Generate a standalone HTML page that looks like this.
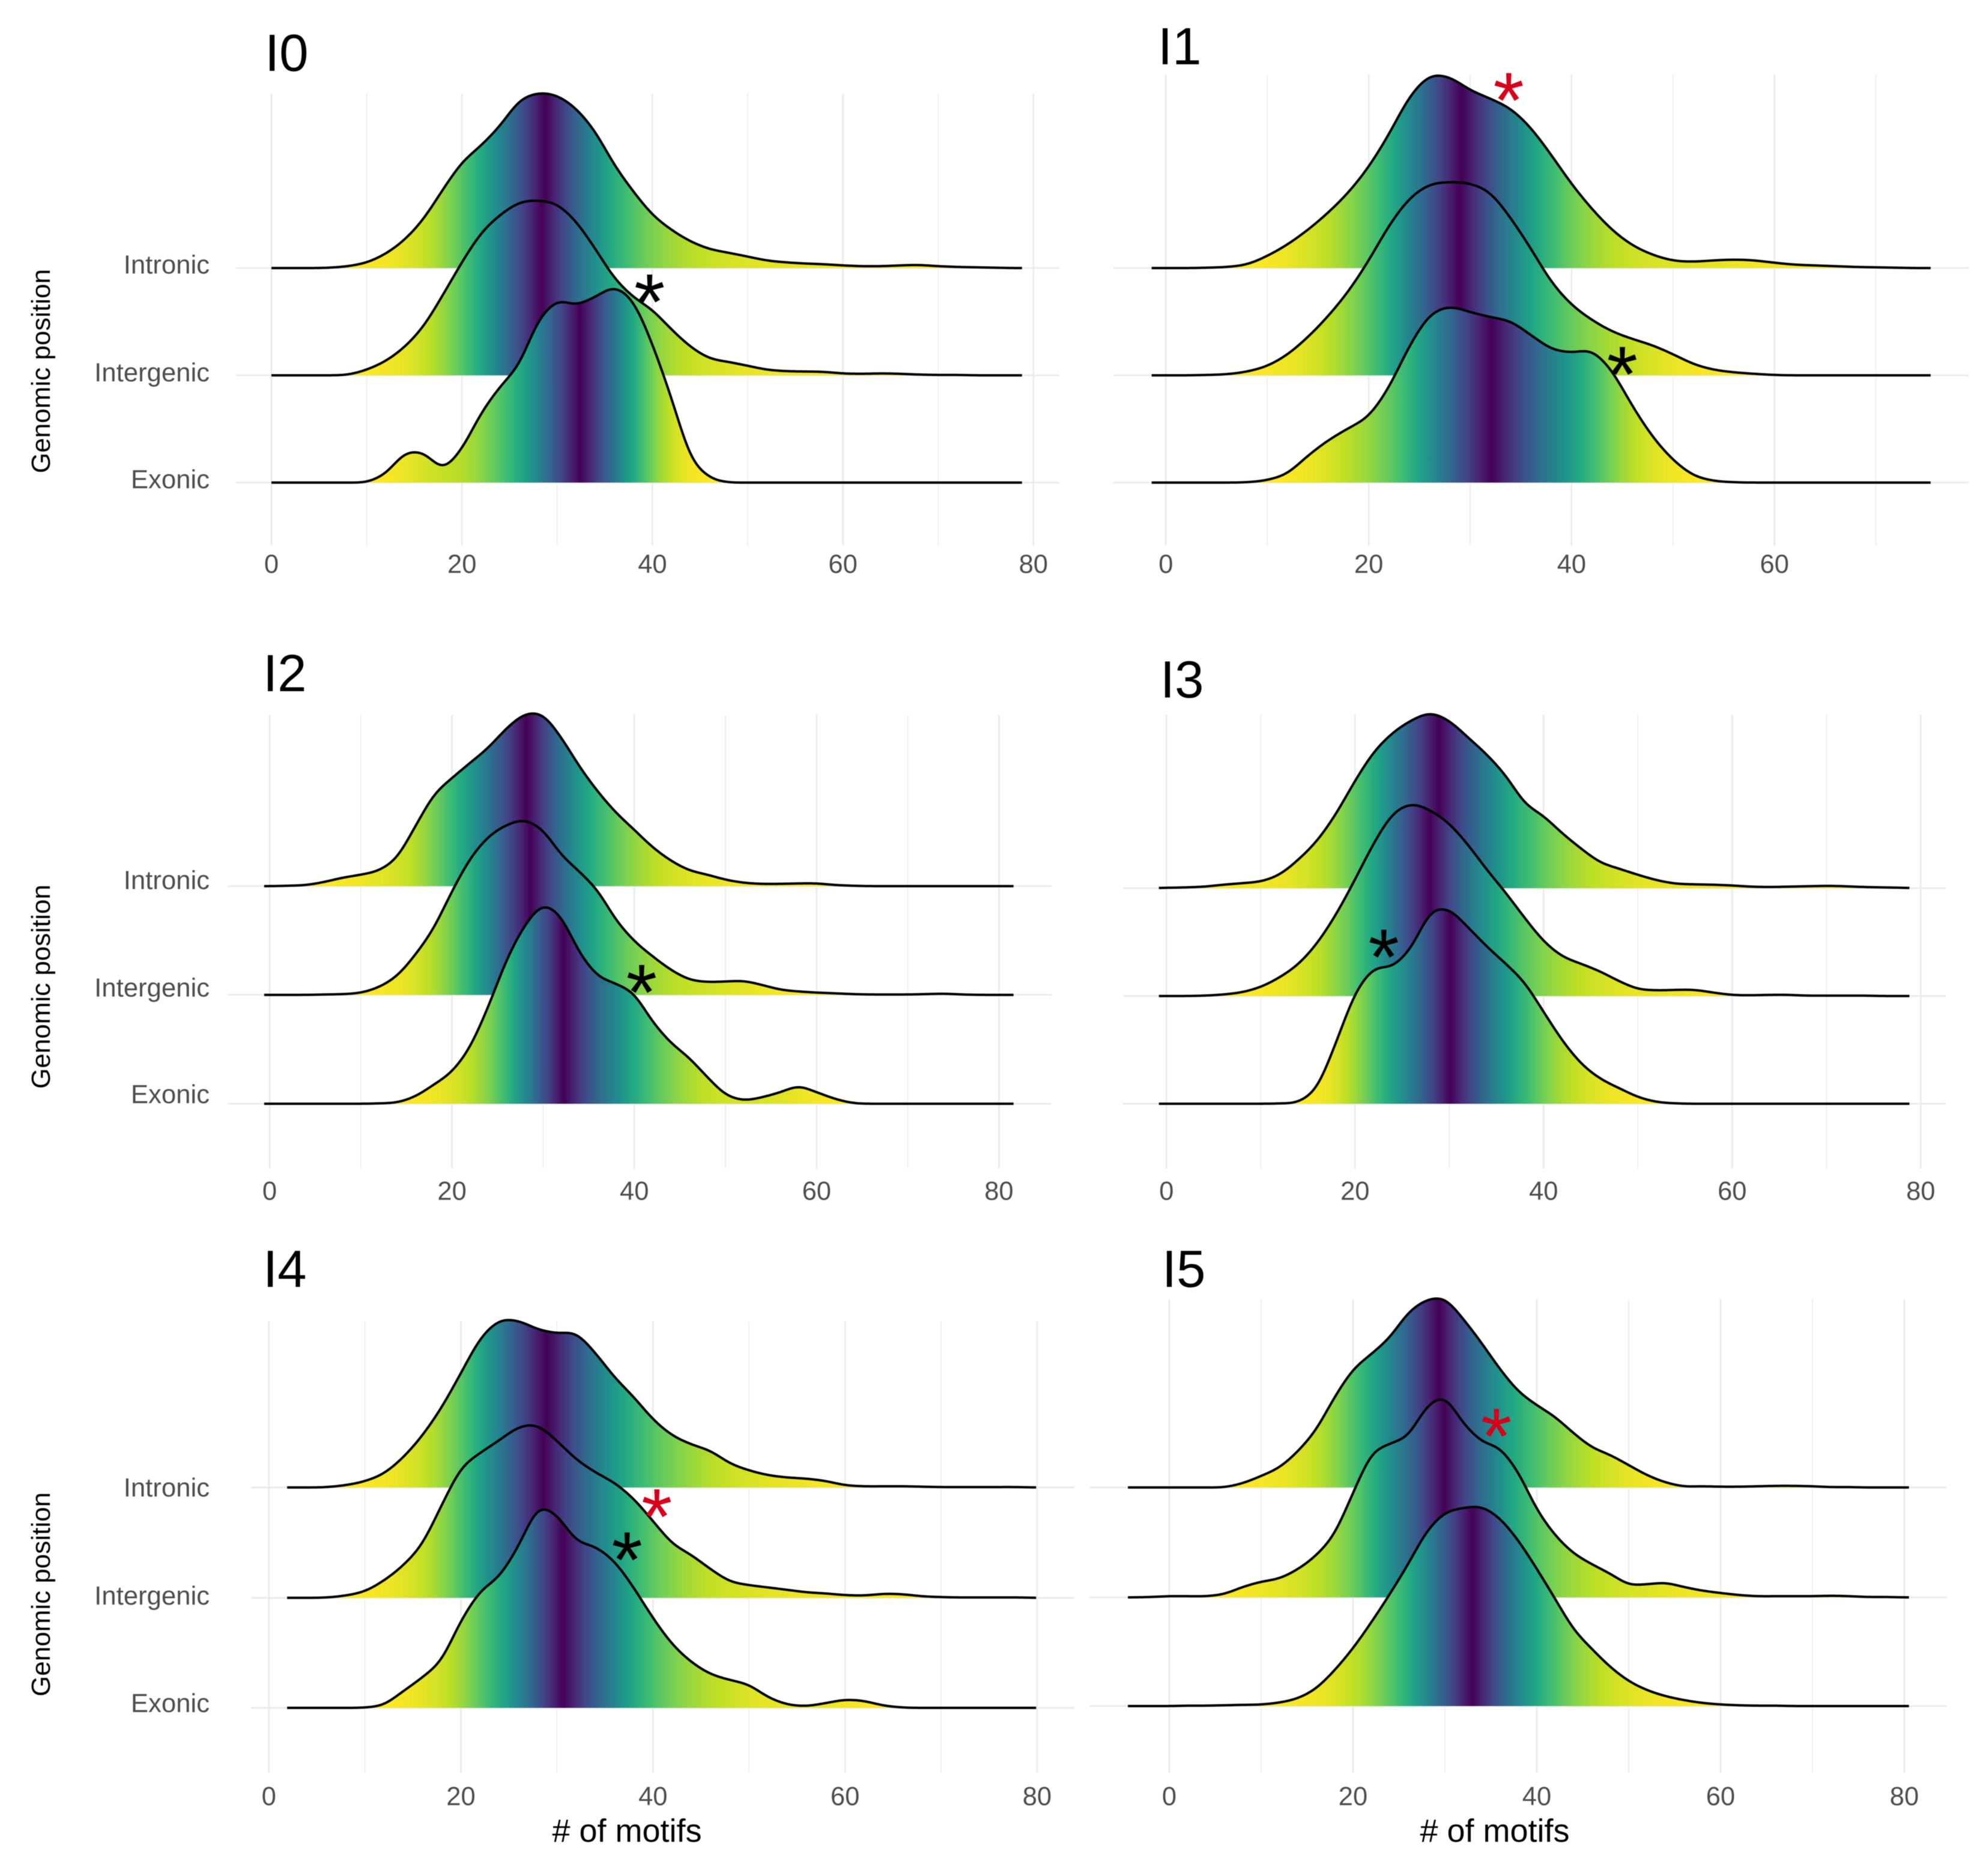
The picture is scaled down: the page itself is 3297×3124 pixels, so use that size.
<!DOCTYPE html>
<html lang="en">
<head>
<meta charset="utf-8">
<title>Motif count ridgelines by genomic position</title>
<style>
html,body{margin:0;padding:0;background:#fff;}
svg{display:block;filter:blur(0.6px);}
text{font-family:"Liberation Sans",sans-serif;}
</style>
</head>
<body>
<svg id="chart" xmlns="http://www.w3.org/2000/svg" width="3297" height="3124" viewBox="0 0 3297 3124"></svg>
<script>
// Shared x bins (# of motifs) for every density array below.
const motifBins = [-6,-4,-2,0,2,4,6,8,10,12,14,16,18,20,22,24,26,28,30,32,34,36,38,40,42,44,46,48,50,52,54,56,58,60,62,64,66,68,70,72,74,76,78,80,82];
const rowNames = ["Intronic","Intergenic","Exonic"];

// Density heights (arbitrary units), one value per motif bin.
const i0Intronic = [0,0,0, 0,0,0,1,5, 15,38,75,130,205, 275,320,372,435,456, 449,415,355,270,200, 140,100,70,50,40, 30,20,15,12,10, 7,5,5,7,8, 5,3,2,1,0, 0,0];
const i0Intergenic = [0,0,0, 0,0,0,0,2, 15,38,75,130,210, 295,370,418,450,456, 445,400,330,255,205, 170,120,75,45,35, 25,15,11,10,9, 5,4,5,4,2, 1,1,0,0,0, 0,0];
const i0Exonic = [0,0,0, 0,0,0,0,0, 2,25,75,76,40, 90,180,250,310,420, 472,465,485,508,470, 360,220,70,15,1, 0,0,0,0,0, 0,0,0,0,0, 0,0,0,0,0, 0,0];

const i1Intronic = [0,0,0, 0,0,1,3,10, 32,62,100,145,198, 265,350,445,500,497, 465,442,415,365,295, 220,155,100,60,35, 20,17,20,22,20, 14,9,7,5,3, 2,1,0,0,0, 0,0];
const i1Intergenic = [0,0,0, 0,0,1,3,10, 25,55,100,155,220, 300,390,460,497,504, 500,475,410,330,245, 185,145,115,95,78, 55,30,15,8,4, 1,0,0,0,0, 0,0,0,0,0, 0,0];
const i1Exonic = [0,0,0, 0,0,0,0,1, 7,25,70,110,142, 175,250,355,435,458, 445,432,420,385,350, 340,342,290,200,120, 60,20,5,1,0, 0,0,0,0,0, 0,0,0,0,0, 0,0];

const i2Intronic = [0,0,0, 0,1,3,11,22, 30,42,77,157,237, 282,322,362,412,448, 445,387,312,247,192, 147,102,67,42,30, 17,9,6,6,7, 7,3,1,0,0, 0,0,0,0,0, 0,0];
const i2Intergenic = [0,0,0, 0,0,0,1,2, 6,21,51,106,175, 270,355,412,443,455, 428,366,321,271,196, 141,101,66,41,34, 35,36,26,14,9, 6,4,2,1,1, 1,2,3,1,0, 0,0];
const i2Exonic = [0,0,0, 0,0,0,0,0, 0,1,4,20,50, 85,150,255,375,465, 516,485,395,335,313, 285,215,160,120,70, 25,10,17,30,45, 30,13,2,0,0, 0,0,0,0,0, 0,0];

const i3Intronic = [0,0,0, 1,2,4,9,13, 18,36,75,125,195, 280,355,405,438,456, 436,393,348,293,223, 188,143,103,68,51, 35,21,12,10,9, 7,4,3,4,5, 6,5,3,2,1, 0,0];
const i3Intergenic = [0,0,0, 0,0,1,4,10, 24,49,84,139,214, 304,399,474,500,484, 449,394,329,269,204, 144,104,84,64,39, 19,15,16,16,9, 3,2,3,3,1, 1,1,1,0,0, 0,0];
const i3Exonic = [0,0,0, 0,0,0,0,0, 0,1,6,46,161, 286,351,360,410,498, 505,460,410,365,315, 240,165,105,66,41, 18,5,1,0,0, 0,0,0,0,0, 0,0,0,0,0, 0,0];

const i4Intronic = [0,0,0, 0,0,0,1,6, 16,36,76,131,201, 286,371,416,416,396, 386,384,336,276,226, 171,131,108,91,61, 43,31,25,22,16, 6,3,3,3,2, 1,1,1,1,1, 0,0];
const i4Intergenic = [0,0,0, 0,0,0,1,6, 17,44,82,137,232, 322,362,394,426,430, 392,347,314,287,247, 192,137,107,72,42, 32,26,20,14,11, 7,6,10,9,4, 2,1,1,1,1, 0,0];
const i4Exonic = [0,0,0, 0,0,0,0,0, 1,9,42,77,122, 217,290,330,405,496, 480,420,402,365,300, 225,160,115,85,70, 57,27,9,5,12, 20,17,6,1,0, 0,0,0,0,0, 0,0];

const i5Intronic = [0,0,0, 0,0,0,1,11, 29,51,91,146,226, 294,334,376,436,468, 470,421,361,296,241, 206,176,136,101,81, 56,31,13,3,3, 2,2,3,4,4, 3,1,1,0,0, 0,0];
const i5Intergenic = [0,0,1, 3,3,3,9,26, 39,48,71,106,161, 261,356,384,406,475, 497,436,391,371,311, 221,156,111,83,59, 33,33,36,26,17, 11,6,3,3,3, 3,4,3,1,1, 0,0];
const i5Exonic = [0,0,0, 0,1,1,2,3, 4,9,20,45,90, 145,210,280,355,435, 482,495,497,468,413, 343,268,193,143,98, 63,40,25,15,8, 4,2,1,1,0, 0,0,0,0,0, 0,0];

// Axis ticks
const i0TickLabels = [0,20,40,60,80];
const i1TickLabels = [0,20,40,60];
const i2TickLabels = [0,20,40,60,80];
const i3TickLabels = [0,20,40,60,80];
const i4TickLabels = [0,20,40,60,80];
const i5TickLabels = [0,20,40,60,80];
const minorTicks = [10,30,50,70];

// Asterisk annotations: motif value, ridge index, height above that ridge, colour.
const i0Stars = [[39.7,1,224,"#000"]];
const i1Stars = [[33.8,0,470,"#d7001c"],[45,1,35,"#000"]];
const i2Stars = [[40.8,1,39,"#000"]];
const i3Stars = [[23.05,1,134,"#000"]];
const i4Stars = [[40.4,1,234,"#d7001c"],[37.3,1,126,"#000"]];
const i5Stars = [[35.6,1,434,"#d7001c"]];

const viridisStops = ["#440154","#482475","#414487","#355f8d","#2a788e","#21908d","#22a884","#42be71","#7ad151","#bddf26","#fde725"];

const panels = [
 {id:"I0",title:[441,118],x0:452,pxPerUnit:15.86,rows:[446.4,625,803.6],top:156,bottom:909,left:393,right:1764,xMin:0,xMax:78.8,hScale:0.638,tickY:954,series:[i0Intronic,i0Intergenic,i0Exonic],ticks:i0TickLabels,stars:i0Stars,yLabelDy:[9,10,9.5],yTitleY:618},
 {id:"I1",title:[1928,107],x0:1941.3,pxPerUnit:16.89,rows:[446.4,625,803.6],top:124,bottom:909,left:1854,right:3278,xMin:-1.4,xMax:75.4,hScale:0.638,tickY:954,series:[i1Intronic,i1Intergenic,i1Exonic],ticks:i1TickLabels,stars:i1Stars},
 {id:"I2",title:[438,1151],x0:449,pxPerUnit:15.18,rows:[1475.6,1656.7,1838],top:1190,bottom:1946,left:379,right:1751,xMin:-0.6,xMax:81.6,hScale:0.638,tickY:1998,series:[i2Intronic,i2Intergenic,i2Exonic],ticks:i2TickLabels,stars:i2Stars,yLabelDy:[5,3,-1],yTitleY:1643},
 {id:"I3",title:[1932,1161.6],x0:1942.3,pxPerUnit:15.7,rows:[1479,1658.6,1838],top:1190,bottom:1946,left:1870,right:3240,xMin:-0.8,xMax:78.8,hScale:0.638,tickY:1998,series:[i3Intronic,i3Intergenic,i3Exonic],ticks:i3TickLabels,stars:i3Stars},
 {id:"I4",title:[438,2143],x0:447.7,pxPerUnit:15.99,rows:[2477,2660.8,2844],top:2200,bottom:2952,left:418,right:1789,xMin:1.9,xMax:80,hScale:0.666,tickY:3006,series:[i4Intronic,i4Intergenic,i4Exonic],ticks:i4TickLabels,stars:i4Stars,yLabelDy:[15,11,7],yTitleY:2655,xTitleX:1044},
 {id:"I5",title:[1935,2143],x0:1947,pxPerUnit:15.3,rows:[2477,2660,2841],top:2163,bottom:2952,left:1814,right:3242,xMin:-4.5,xMax:80.5,hScale:0.666,tickY:3006,series:[i5Intronic,i5Intergenic,i5Exonic],ticks:i5TickLabels,stars:i5Stars,xTitleX:2489}
];

const SVGNS = "http://www.w3.org/2000/svg";
const svg = document.getElementById("chart");

function make(tag, attrs, parent, text) {
  const node = document.createElementNS(SVGNS, tag);
  for (const k in attrs) node.setAttribute(k, attrs[k]);
  if (text !== undefined) node.textContent = text;
  parent.appendChild(node);
  return node;
}
function hexToRgb(h) {
  return [parseInt(h.slice(1,3),16),parseInt(h.slice(3,5),16),parseInt(h.slice(5,7),16)];
}
function viridis(t) {
  const p = Math.max(0,Math.min(1,t))*(viridisStops.length-1);
  const i = Math.min(Math.floor(p),viridisStops.length-2);
  const a = hexToRgb(viridisStops[i]), b = hexToRgb(viridisStops[i+1]), f = p-i;
  return "rgb("+[0,1,2].map(function(c){return Math.round(a[c]+(b[c]-a[c])*f);}).join(",")+")";
}
function rawDensity(values, x) {
  const step = motifBins[1]-motifBins[0];
  const pos = (x-motifBins[0])/step;
  const i = Math.max(0,Math.min(motifBins.length-2,Math.floor(pos)));
  const t = pos-i;
  const v = function(k){const j=Math.max(0,Math.min(values.length-1,k));return values[j]||0;};
  const p0=v(i-1),p1=v(i),p2=v(i+1),p3=v(i+2);
  const y = 0.5*((2*p1)+(-p0+p2)*t+(2*p0-5*p1+4*p2-p3)*t*t+(-p0+3*p1-3*p2+p3)*t*t*t);
  return Math.max(0,y);
}
// Light kernel smoothing, as a density estimate would show.
function densityAt(values, x) {
  const sigma = 0.6;
  let sum = 0, weight = 0;
  for (let d=-1.5; d<=1.5001; d+=0.25) {
    const w = Math.exp(-d*d/(2*sigma*sigma));
    sum += w*rawDensity(values,x+d);
    weight += w;
  }
  return sum/weight;
}

panels.forEach(function(p, panelIndex) {
  const xScale = function(v){return p.x0+v*p.pxPerUnit;};
  const heightScale = function(v){return v*p.hScale;};

  const g = make("g",{},svg);
  
  

  // grid lines
  minorTicks.forEach(function(v){
    const px = xScale(v);
    if (px > p.right) return;
    const line = make("line",{x1:px,x2:px,y1:p.top,y2:p.bottom,stroke:"#ebebeb","stroke-width":1.5},g);
    
    
  });
  p.ticks.forEach(function(v){
    const px = xScale(v);
    const line = make("line",{x1:px,x2:px,y1:p.top,y2:p.bottom,stroke:"#ebebeb","stroke-width":2.8},g);
    
    
    const label = make("text",{x:px,y:p.tickY,"text-anchor":"middle","font-size":43.5,fill:"#4d4d4d"},g,String(v));
    
    
  });
  p.rows.forEach(function(b, r){
    const line = make("line",{x1:p.left,x2:p.right,y1:b,y2:b,stroke:"#ebebeb","stroke-width":2.8},g);
    
    
    if (p.yLabelDy !== undefined) {
      const label = make("text",{x:349,y:b+p.yLabelDy[r],"text-anchor":"end","font-size":43.7,fill:"#4d4d4d"},g,rowNames[r]);
      
      
    }
  });

  // ridges: top row first so lower rows overlap
  p.series.forEach(function(values, r){
    const b = p.rows[r];
    const samples = [];
    for (let x=p.xMin; x<=p.xMax+1e-6; x+=0.2) samples.push([x,densityAt(values,x)]);
    let total = 0; const cum=[0];
    for (let i=1;i<samples.length;i++){ total += (samples[i][1]+samples[i-1][1])/2; cum.push(total); }

    const gradId = "grad-"+panelIndex+"-"+r;
    const defs = make("defs",{},g);
    const grad = make("linearGradient",{id:gradId,gradientUnits:"userSpaceOnUse",x1:xScale(p.xMin),x2:xScale(p.xMax),y1:0,y2:0},defs);
    samples.forEach(function(s,i){
      const F = total>0?cum[i]/total:0;
      const tail = Math.min(F,1-F);
      make("stop",{offset:((s[0]-p.xMin)/(p.xMax-p.xMin)).toFixed(5),"stop-color":viridis(1-tail/0.5)},grad);
    });

    const pts = samples.map(function(s){return xScale(s[0]).toFixed(2)+","+(b-heightScale(s[1])).toFixed(2);});
    const fill = make("path",{d:"M"+xScale(p.xMin).toFixed(2)+","+b+" L"+pts.join(" L")+" L"+xScale(p.xMax).toFixed(2)+","+b+" Z",fill:"url(#"+gradId+")"},g);
    
    
    const line = make("path",{d:"M"+pts.join(" L"),fill:"none",stroke:"#000","stroke-width":4,"stroke-linejoin":"round"},g);
    
    
  });

  // title
  const title = make("text",{x:p.title[0],y:p.title[1],"font-size":87,fill:"#000"},g,p.id);
  
  

  // asterisks
  p.stars.forEach(function(s){
    const cy = p.rows[s[1]]-heightScale(s[2]);
    const star = make("text",{x:xScale(s[0]),y:cy+66,"text-anchor":"middle","font-size":132,fill:s[3]},g,"*");
    
    
  });

  // axis titles
  if (p.yTitleY !== undefined) {
    const yt = make("text",{transform:"translate(83,"+p.yTitleY+") rotate(-90)","text-anchor":"middle","font-size":44,fill:"#000"},g,"Genomic position");
    
    
  }
  if (p.xTitleX !== undefined) {
    const xt = make("text",{x:p.xTitleX,y:3067,"text-anchor":"middle","font-size":54,fill:"#000"},g,"# of motifs");
    
    
  }
});
</script>
</body>
</html>
